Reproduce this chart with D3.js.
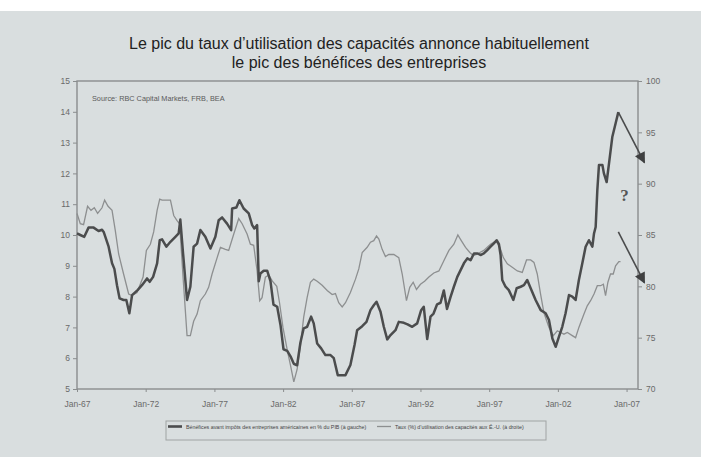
<!DOCTYPE html>
<html>
<head>
<meta charset="utf-8">
<script src="https://cdn.jsdelivr.net/npm/d3@7"></script>
<style>
  body { margin: 0; background: #fff; }
  svg { display: block; }
</style>
</head>
<body>
<svg id="chart" width="701" height="457"></svg>
<script>
// bénéfices avant impôts, % du PIB (axe gauche)
const profitYears = [1967.00, 1967.24, 1967.53, 1967.84, 1968.21, 1968.57, 1968.82, 1968.94, 1969.30, 1969.55,
  1969.72, 1969.91, 1970.10, 1970.39, 1970.59, 1970.81, 1971.01, 1971.41, 1971.73, 1972.10,
  1972.29, 1972.54, 1972.83, 1973.02, 1973.19, 1973.50, 1973.80, 1974.16, 1974.40, 1974.52,
  1974.72, 1975.01, 1975.25, 1975.49, 1975.74, 1975.98, 1976.34, 1976.71, 1977.07, 1977.31,
  1977.56, 1977.92, 1978.22, 1978.29, 1978.60, 1978.82, 1979.13, 1979.50, 1979.75, 1979.91,
  1980.11, 1980.23, 1980.35, 1980.59, 1980.84, 1981.08, 1981.30, 1981.57, 1981.81, 1982.03,
  1982.30, 1982.54, 1982.78, 1983.02, 1983.26, 1983.50, 1983.75, 1984.04, 1984.23, 1984.48,
  1984.77, 1985.08, 1985.45, 1985.69, 1985.98, 1986.30, 1986.54, 1986.90, 1987.20, 1987.39,
  1987.76, 1988.07, 1988.36, 1988.60, 1988.80, 1989.09, 1989.33, 1989.58, 1989.82, 1990.18,
  1990.42, 1990.79, 1991.06, 1991.40, 1991.76, 1992.05, 1992.24, 1992.49, 1992.73, 1992.95,
  1993.21, 1993.46, 1993.70, 1993.93, 1994.19, 1994.43, 1994.68, 1994.92, 1995.16, 1995.41,
  1995.65, 1995.89, 1996.16, 1996.37, 1996.61, 1996.86, 1997.10, 1997.34, 1997.54, 1997.71,
  1997.83, 1997.95, 1998.19, 1998.43, 1998.76, 1999.00, 1999.29, 1999.53, 1999.77, 2000.02,
  2000.38, 2000.75, 2001.11, 2001.35, 2001.60, 2001.84, 2002.08, 2002.32, 2002.56, 2002.81,
  2003.05, 2003.29, 2003.53, 2003.78, 2004.02, 2004.26, 2004.51, 2004.63, 2004.75, 2004.87,
  2004.99, 2005.24, 2005.35, 2005.55, 2005.72, 2005.96, 2006.20, 2006.40]
const profitValues = [10.05, 10.0, 9.94, 10.24, 10.24, 10.13, 10.17, 10.10, 9.62, 9.08,
  8.90, 8.37, 7.94, 7.89, 7.89, 7.46, 8.05, 8.21, 8.37, 8.59,
  8.48, 8.64, 9.08, 9.83, 9.86, 9.62, 9.78, 9.94, 10.05, 10.50,
  9.40, 7.89, 8.32, 9.62, 9.72, 10.16, 9.94, 9.56, 9.94, 10.48,
  10.57, 10.37, 10.16, 10.86, 10.89, 11.13, 10.86, 10.70, 10.32, 10.21,
  10.32, 8.50, 8.75, 8.84, 8.84, 8.50, 7.74, 7.67, 7.08, 6.29,
  6.24, 6.06, 5.82, 5.77, 6.50, 6.97, 7.02, 7.35, 7.13, 6.48,
  6.32, 6.10, 6.10, 6.00, 5.45, 5.45, 5.45, 5.78, 6.43, 6.91,
  7.04, 7.18, 7.56, 7.72, 7.83, 7.51, 7.02, 6.61, 6.75, 6.91,
  7.18, 7.15, 7.10, 7.02, 7.13, 7.56, 7.67, 6.62, 7.35, 7.45,
  7.75, 7.80, 8.20, 7.60, 7.99, 8.32, 8.64, 8.86, 9.08, 9.24,
  9.18, 9.40, 9.40, 9.35, 9.40, 9.51, 9.62, 9.73, 9.83, 9.70,
  9.35, 8.54, 8.32, 8.21, 7.89, 8.27, 8.32, 8.37, 8.54, 8.27,
  7.89, 7.56, 7.46, 7.24, 6.64, 6.37, 6.70, 7.02, 7.46, 8.05,
  8.00, 7.89, 8.54, 9.08, 9.62, 9.83, 9.62, 10.05, 10.26, 11.45,
  12.27, 12.27, 12.00, 11.72, 12.32, 13.18, 13.62, 13.99]

// taux d'utilisation des capacités, % (axe droit)
const utilYears = [1967.00, 1967.24, 1967.48, 1967.77, 1968.02, 1968.26, 1968.50, 1968.82, 1969.01, 1969.26,
  1969.55, 1969.79, 1970.03, 1970.39, 1970.76, 1971.01, 1971.37, 1971.81, 1972.05, 1972.34,
  1972.58, 1972.83, 1973.02, 1973.19, 1973.43, 1973.80, 1974.04, 1974.28, 1974.47, 1974.72,
  1975.01, 1975.25, 1975.49, 1975.74, 1975.98, 1976.34, 1976.58, 1976.83, 1977.20, 1977.44,
  1977.80, 1978.04, 1978.41, 1978.77, 1979.02, 1979.38, 1979.62, 1979.86, 1980.11, 1980.30,
  1980.47, 1980.71, 1980.96, 1981.22, 1981.54, 1981.74, 1981.99, 1982.30, 1982.54, 1982.78,
  1983.02, 1983.26, 1983.50, 1983.75, 1983.99, 1984.23, 1984.48, 1984.84, 1985.21, 1985.57,
  1985.81, 1986.05, 1986.30, 1986.54, 1986.90, 1987.27, 1987.51, 1987.76, 1988.12, 1988.36,
  1988.60, 1988.80, 1988.97, 1989.21, 1989.45, 1989.69, 1990.06, 1990.42, 1990.67, 1990.98,
  1991.22, 1991.47, 1991.71, 1992.00, 1992.30, 1992.61, 1992.97, 1993.34, 1993.70, 1994.07,
  1994.43, 1994.72, 1994.97, 1995.28, 1995.59, 1995.84, 1996.08, 1996.32, 1996.61, 1996.86,
  1997.10, 1997.34, 1997.54, 1997.78, 1998.03, 1998.32, 1998.68, 1999.05, 1999.41, 1999.72,
  2000.02, 2000.26, 2000.50, 2000.74, 2000.98, 2001.35, 2001.67, 2001.96, 2002.20, 2002.44,
  2002.69, 2003.05, 2003.29, 2003.53, 2003.90, 2004.14, 2004.38, 2004.63, 2004.87, 2005.11,
  2005.31, 2005.47, 2005.64, 2005.83, 2006.03, 2006.20, 2006.44, 2006.56]
const utilValues = [87.1, 86.1, 86.0, 87.8, 87.4, 87.65, 87.1, 87.65, 88.4, 87.8,
  87.4, 85.4, 83.15, 81.2, 79.25, 79.1, 79.4, 80.9, 83.5, 84.1,
  85.3, 87.4, 88.5, 88.4, 88.4, 88.4, 86.9, 86.4, 86.1, 80.9,
  75.2, 75.2, 76.6, 77.3, 78.6, 79.25, 79.9, 81.2, 82.8, 83.8,
  83.6, 83.5, 85.1, 86.6, 86.1, 85.1, 84.1, 84.0, 81.5, 78.6,
  78.9, 80.9, 81.1, 80.5, 80.0, 78.4, 76.0, 73.8, 72.3, 70.7,
  71.9, 74.2, 77.0, 78.9, 80.4, 80.7, 80.5, 80.1, 79.6, 79.2,
  79.3, 78.4, 78.0, 78.4, 79.4, 80.7, 81.7, 83.3, 83.8, 84.3,
  84.45, 84.9, 84.6, 83.6, 82.9, 83.1, 83.1, 82.8, 81.2, 78.6,
  79.9, 80.4, 79.7, 80.2, 80.5, 80.9, 81.3, 81.5, 82.5, 83.5,
  84.1, 85.0, 84.45, 83.8, 83.3, 83.0, 83.1, 83.3, 83.5, 83.8,
  84.1, 84.3, 84.3, 83.8, 82.8, 82.2, 81.85, 81.5, 81.36, 82.57,
  82.57, 82.33, 81.2, 79.25, 77.45, 76.0, 75.2, 75.66, 75.5, 75.34,
  75.5, 75.2, 75.0, 76.0, 77.3, 78.1, 78.6, 79.25, 80.06, 80.06,
  80.2, 79.1, 80.4, 81.2, 81.2, 82.0, 82.4, 82.4]

const leftTicks = [5, 6, 7, 8, 9, 10, 11, 12, 13, 14, 15]
const rightTicks = [70, 75, 80, 85, 90, 95, 100]
const tickYears = [1967, 1972, 1977, 1982, 1987, 1992, 1997, 2002, 2007]

const titleLines = ['Le pic du taux d\u2019utilisation des capacités annonce habituellement',
                    'le pic des bénéfices des entreprises']
const sourceText = 'Source: RBC Capital Markets, FRB, BEA'
const legendLabels = ['Bénéfices avant impôts des entreprises américaines en % du PIB (à gauche)',
                      'Taux (%) d\u2019utilisation des capacités aux É.-U. (à droite)']

// flèches "?" : départ et arrivée en (année, valeur axe gauche)
const arrowStarts = [[2006.40, 13.99], [2006.40, 10.1]]
const arrowEnds = [[2008.3, 12.35], [2008.3, 8.45]]
const questionPos = [2006.85, 11.1]

const bg = '#d9dedf'
const margin = { top: 81, right: 63, bottom: 68, left: 77 }

var svg = d3.select('#chart')
var width = +svg.attr('width')
var height = +svg.attr('height')

function toDate(y) {
    var yr = Math.floor(y)
    var a = new Date(yr, 0, 1), b = new Date(yr + 1, 0, 1)
    return new Date(+a + (y - yr) * (b - a))
}

svg.append('rect').attr('x', 0).attr('y', 11).attr('width', width).attr('height', height - 11).attr('fill', bg)

var x = d3.scaleTime()
          .domain([new Date(1967, 0, 1), new Date(2007, 10, 1)])
          .range([margin.left, width - margin.right])
var yL = d3.scaleLinear().domain([5, 15]).range([height - margin.bottom, margin.top])
var yR = d3.scaleLinear().domain([70, 100]).range([height - margin.bottom, margin.top])

// titre
svg.append('g').selectAll('text')
   .data(titleLines)
   .enter()
   .append('text')
   .attr('x', 359)
   .attr('y', function (d, i) { return 48.5 + i * 19 })
   .attr('text-anchor', 'middle')
   .attr('font-family', 'Liberation Sans, Arial, sans-serif')
   .attr('font-size', 16)
   .attr('fill', '#222')
   .text(function (d) { return d })

// cadre
svg.append('rect')
   .attr('x', margin.left).attr('y', margin.top)
   .attr('width', width - margin.left - margin.right)
   .attr('height', height - margin.top - margin.bottom)
   .attr('fill', 'none').attr('stroke', '#8a8d8e').attr('stroke-width', 1.4)

function styleAxis(g) {
    g.select('.domain').remove()
    g.selectAll('line').attr('stroke', '#8a8d8e')
    g.selectAll('text').attr('fill', '#6a6a6a')
       .attr('font-family', 'Liberation Sans, Arial, sans-serif').attr('font-size', 8.5)
}

svg.append('g')
   .attr('transform', 'translate(' + margin.left + ',0)')
   .call(d3.axisLeft(yL).tickValues(leftTicks).tickSize(4).tickPadding(3))
   .call(styleAxis)
svg.append('g')
   .attr('transform', 'translate(' + (width - margin.right) + ',0)')
   .call(d3.axisRight(yR).tickValues(rightTicks).tickSize(4).tickPadding(4))
   .call(styleAxis)
svg.append('g')
   .attr('transform', 'translate(0,' + (height - margin.bottom) + ')')
   .call(d3.axisBottom(x)
           .tickValues(tickYears.map(function (y) { return new Date(y, 0, 1) }))
           .tickFormat(d3.timeFormat('%b-%y'))
           .tickSize(3).tickPadding(9))
   .call(styleAxis)

// source
svg.append('text')
   .attr('x', 92).attr('y', 101)
   .attr('font-family', 'Liberation Sans, Arial, sans-serif')
   .attr('font-size', 7.3)
   .attr('fill', '#5a5a5a')
   .text(sourceText)

var utilData = utilYears.map(function (y, i) { return [toDate(y), utilValues[i]] })
var profitData = profitYears.map(function (y, i) { return [toDate(y), profitValues[i]] })

svg.append('path')
   .datum(utilData)
   .attr('fill', 'none')
   .attr('stroke', '#8d8f90')
   .attr('stroke-width', 1.3)
   .attr('d', d3.line().x(function (d) { return x(d[0]) }).y(function (d) { return yR(d[1]) }))

svg.append('path')
   .datum(profitData)
   .attr('fill', 'none')
   .attr('stroke', '#4b4c4d')
   .attr('stroke-width', 2.5)
   .attr('stroke-linejoin', 'round')
   .attr('d', d3.line().x(function (d) { return x(d[0]) }).y(function (d) { return yL(d[1]) }))

// flèches
svg.append('defs').append('marker')
   .attr('id', 'head')
   .attr('markerUnits', 'userSpaceOnUse')
   .attr('viewBox', '0 0 10 10')
   .attr('refX', 9).attr('refY', 5)
   .attr('markerWidth', 13).attr('markerHeight', 11)
   .attr('orient', 'auto')
   .append('path').attr('d', 'M0,0 L10,5 L0,10 Z').attr('fill', '#3f4041')

svg.append('g').selectAll('line')
   .data(arrowStarts)
   .enter()
   .append('line')
   .attr('x1', function (d) { return x(toDate(d[0])) })
   .attr('y1', function (d) { return yL(d[1]) })
   .attr('x2', function (d, i) { return x(toDate(arrowEnds[i][0])) })
   .attr('y2', function (d, i) { return yL(arrowEnds[i][1]) })
   .attr('stroke', '#4b4c4d')
   .attr('stroke-width', 1.6)
   .attr('marker-end', 'url(#head)')

svg.append('text')
   .attr('x', x(toDate(questionPos[0])))
   .attr('y', yL(questionPos[1]))
   .attr('text-anchor', 'middle')
   .attr('font-family', 'Liberation Serif, Times New Roman, serif')
   .attr('font-weight', 'bold')
   .attr('font-size', 17)
   .attr('fill', '#555')
   .text('?')

// légende
var legend = svg.append('g')
legend.append('rect')
      .attr('x', 166).attr('y', 421).attr('width', 380).attr('height', 19)
      .attr('fill', 'none').attr('stroke', '#a0a3a4').attr('stroke-width', 1)
var legendX = [168, 377]
var legendStroke = [['#4b4c4d', 2.6], ['#8d8f90', 1.3]]
legend.selectAll('line.sample')
      .data(legendLabels)
      .enter()
      .append('line')
      .attr('x1', function (d, i) { return legendX[i] })
      .attr('x2', function (d, i) { return legendX[i] + 14 })
      .attr('y1', 426.5).attr('y2', 426.5)
      .attr('stroke', function (d, i) { return legendStroke[i][0] })
      .attr('stroke-width', function (d, i) { return legendStroke[i][1] })
legend.selectAll('text')
      .data(legendLabels)
      .enter()
      .append('text')
      .attr('x', function (d, i) { return legendX[i] + 18 })
      .attr('y', 428.5)
      .attr('font-family', 'Liberation Sans, Arial, sans-serif')
      .attr('font-size', 5.3)
      .attr('fill', '#444')
      .text(function (d) { return d })
</script>
</body>
</html>
